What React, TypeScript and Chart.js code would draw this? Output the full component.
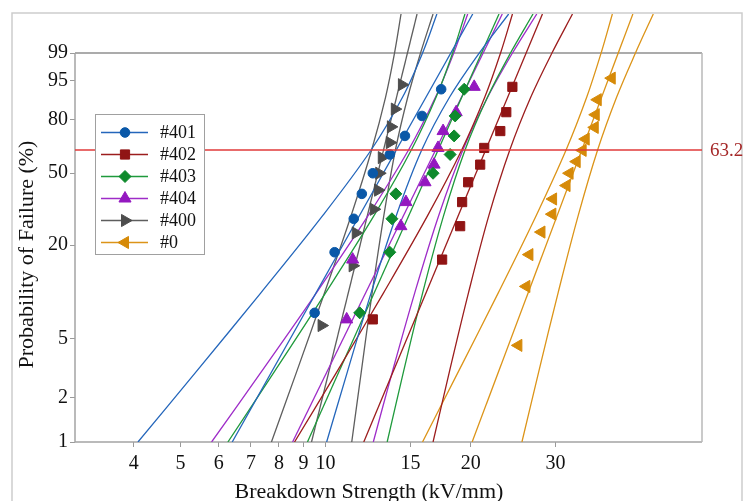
import React, { useEffect, useRef } from 'react';
import { Chart, registerables } from 'chart.js';

Chart.register(...registerables);

// ---------------- data ----------------
const X_TICKS = [4, 5, 6, 7, 8, 9, 10, 15, 20, 30];
const Y_TICKS = [1, 2, 5, 20, 50, 80, 95, 99];
const X_MIN = 3.02;
const X_MAX = 60.4;
const Y_MIN_PCT = 1;
const Y_MAX_PCT = 99.98;
const REF_PCT = 63.2;

// median ranks (probability of failure, %)
const RANK_9 = [7.4, 18.1, 28.7, 39.4, 50.0, 60.6, 71.3, 81.9, 92.6];
const RANK_10 = [6.7, 16.3, 26.0, 35.6, 45.2, 54.8, 64.4, 74.0, 83.7, 93.3];
const RANK_11 = [6.1, 14.9, 23.7, 32.5, 41.2, 50.0, 58.8, 67.5, 76.3, 85.1, 93.9];
const RANK_15 = [4.5, 11.0, 17.5, 24.0, 30.5, 37.0, 43.5, 50.0, 56.5, 63.0, 69.5, 76.0, 82.5, 89.0, 95.5];

// breakdown strength of the samples (kV/mm)
const KV_401 = [9.49, 10.44, 11.44, 11.89, 12.53, 13.59, 14.61, 15.85, 17.37];
const KV_402 = [12.53, 17.45, 19.02, 19.2, 19.76, 20.93, 21.34, 23.04, 23.71, 24.41];
const KV_403 = [11.77, 13.59, 13.73, 13.99, 16.71, 18.13, 18.48, 18.57, 19.39];
const KV_404 = [11.06, 11.38, 14.33, 14.68, 16.08, 16.79, 17.11, 17.53, 18.66, 20.34];
const KV_400 = [9.81, 11.38, 11.55, 12.59, 12.85, 12.92, 13.08, 13.59, 13.66, 13.92, 14.4];
const KV_0 = [25.12, 26.1, 26.48, 28.05, 29.55, 29.65, 31.62, 32.08, 33.19, 34.15, 34.65, 36.18, 36.35, 36.7, 39.24];

// fitted Weibull lines: strength at FIT_PCT
const FIT_PCT = [1, 99.98];
const FIT_401 = [6.4, 20.2];
const FIT_402 = [12.0, 28.18];
const FIT_403 = [9.17, 22.9];
const FIT_404 = [8.54, 23.26];
const FIT_400 = [9.35, 15.48];
const FIT_0 = [20.14, 43.41];

// confidence bounds: strength at BOUND_PCT
const BOUND_PCT = [1, 3, 10, 30, 63.2, 90, 99, 99.98];
const LO_401 = [4.08, 5.39, 7.34, 9.87, 12.43, 14.45, 15.89, 17.02];
const HI_401 = [10.05, 11.1, 12.43, 14.02, 15.83, 18.09, 20.84, 23.98];
const LO_402 = [8.62, 10.56, 13.19, 16.29, 19.16, 21.4, 23.07, 24.42];
const HI_402 = [16.71, 18.07, 19.79, 21.82, 24.11, 26.66, 29.49, 32.53];
const LO_403 = [6.27, 7.83, 10.0, 12.61, 15.06, 16.96, 18.35, 19.46];
const HI_403 = [13.42, 14.51, 15.9, 17.58, 19.47, 21.68, 24.19, 26.94];
const LO_404 = [5.8, 7.36, 9.57, 12.26, 14.86, 16.91, 18.45, 19.72];
const HI_404 = [12.56, 13.76, 15.31, 17.17, 19.27, 21.7, 24.42, 27.43];
const LO_400 = [7.72, 8.71, 9.95, 11.3, 12.46, 13.32, 13.9, 14.34];
const HI_400 = [11.33, 11.86, 12.49, 13.21, 13.96, 14.81, 15.74, 16.71];
const LO_0 = [15.89, 18.86, 22.82, 27.36, 31.55, 34.83, 37.3, 39.36];
const HI_0 = [25.55, 27.69, 30.37, 33.44, 36.68, 40.18, 43.95, 47.86];

const SERIES_NAMES = ['#401', '#402', '#403', '#404', '#400', '#0'];

// ---------------- styles ----------------
const FONT = '"Liberation Serif", "Times New Roman", serif';

type Series = {
  name: string; kv: number[]; pct: number[]; fit: number[]; lo: number[]; hi: number[];
  marker: string; line: string; style: string; rot: number; r: number;
};

const SERIES: Series[] = [
  { name: SERIES_NAMES[0], kv: KV_401, pct: RANK_9, fit: FIT_401, lo: LO_401, hi: HI_401, marker: '#0a58a8', line: '#2466bb', style: 'circle', rot: 0, r: 4.8 },
  { name: SERIES_NAMES[1], kv: KV_402, pct: RANK_10, fit: FIT_402, lo: LO_402, hi: HI_402, marker: '#901414', line: '#9c1d1d', style: 'rect', rot: 0, r: 6.5 },
  { name: SERIES_NAMES[2], kv: KV_403, pct: RANK_9, fit: FIT_403, lo: LO_403, hi: HI_403, marker: '#0e8a2c', line: '#1f9a3c', style: 'rectRot', rot: 0, r: 6 },
  { name: SERIES_NAMES[3], kv: KV_404, pct: RANK_10, fit: FIT_404, lo: LO_404, hi: HI_404, marker: '#9418c0', line: '#9e2cc8', style: 'triangle', rot: 0, r: 7 },
  { name: SERIES_NAMES[4], kv: KV_400, pct: RANK_11, fit: FIT_400, lo: LO_400, hi: HI_400, marker: '#4d4d4d', line: '#5e5e5e', style: 'triangle', rot: 90, r: 7 },
  { name: SERIES_NAMES[5], kv: KV_0, pct: RANK_15, fit: FIT_0, lo: LO_0, hi: HI_0, marker: '#d68a08', line: '#dc9418', style: 'triangle', rot: -90, r: 7 },
];

// Weibull probability transform
const wb = (p: number) => Math.log(-Math.log(1 - p / 100));

function drawMarker(ctx: CanvasRenderingContext2D, style: string, x: number, y: number, r: number, rot: number, color: string) {
  ctx.save();
  ctx.fillStyle = color;
  ctx.strokeStyle = color;
  ctx.lineWidth = 1;
  ctx.beginPath();
  if (style === 'circle') {
    ctx.arc(x, y, r, 0, Math.PI * 2);
  } else if (style === 'rect') {
    const s = r * Math.SQRT1_2;
    ctx.rect(x - s, y - s, 2 * s, 2 * s);
  } else if (style === 'rectRot') {
    ctx.moveTo(x - r, y);
    ctx.lineTo(x, y - r);
    ctx.lineTo(x + r, y);
    ctx.lineTo(x, y + r);
    ctx.closePath();
  } else {
    let a = (rot * Math.PI) / 180;
    ctx.moveTo(x + Math.sin(a) * r, y - Math.cos(a) * r);
    a += (2 * Math.PI) / 3;
    ctx.lineTo(x + Math.sin(a) * r, y - Math.cos(a) * r);
    a += (2 * Math.PI) / 3;
    ctx.lineTo(x + Math.sin(a) * r, y - Math.cos(a) * r);
    ctx.closePath();
  }
  ctx.fill();
  ctx.stroke();
  ctx.restore();
}

const framePlugin = {
  id: 'weibullFrame',
  beforeDatasetsDraw(chart: any) {
    const ctx: CanvasRenderingContext2D = chart.ctx;
    const { left, right, bottom } = chart.chartArea;
    const y99 = chart.scales.y.getPixelForValue(wb(99));
    ctx.save();
    // outer figure frame
    ctx.strokeStyle = '#cdcdcd';
    ctx.lineWidth = 1.5;
    ctx.beginPath();
    ctx.moveTo(12, 510);
    ctx.lineTo(12, 13);
    ctx.lineTo(742, 13);
    ctx.lineTo(742, 510);
    ctx.stroke();
    // plot frame
    ctx.lineWidth = 1.5;
    ctx.strokeStyle = '#8f8f8f';
    ctx.beginPath();
    ctx.moveTo(left, y99);
    ctx.lineTo(right, y99);
    ctx.stroke();
    ctx.strokeStyle = '#a4a4a4';
    ctx.beginPath();
    ctx.moveTo(left, y99);
    ctx.lineTo(left, bottom);
    ctx.lineTo(right, bottom);
    ctx.stroke();
    ctx.strokeStyle = '#b8b8b8';
    ctx.beginPath();
    ctx.moveTo(right, y99);
    ctx.lineTo(right, bottom);
    ctx.stroke();
    ctx.restore();
  },
  afterDatasetsDraw(chart: any) {
    const ctx: CanvasRenderingContext2D = chart.ctx;
    const { left, right } = chart.chartArea;
    const yr = chart.scales.y.getPixelForValue(wb(REF_PCT));
    ctx.save();
    ctx.strokeStyle = '#e03a3a';
    ctx.lineWidth = 1.5;
    ctx.beginPath();
    ctx.moveTo(left, yr);
    ctx.lineTo(right, yr);
    ctx.stroke();
    ctx.fillStyle = '#a52828';
    ctx.font = `19px ${FONT}`;
    ctx.textAlign = 'left';
    ctx.textBaseline = 'middle';
    ctx.fillText(String(REF_PCT), 710, yr + 1);
    ctx.restore();
  },
  afterDraw(chart: any) {
    const ctx: CanvasRenderingContext2D = chart.ctx;
    ctx.save();
    // legend
    const bx = 95, by = 114, bw = 109, bh = 140;
    ctx.fillStyle = '#ffffff';
    ctx.fillRect(bx, by, bw, bh);
    ctx.strokeStyle = '#a0a0a0';
    ctx.lineWidth = 1;
    ctx.strokeRect(bx + 0.5, by + 0.5, bw, bh);
    SERIES.forEach((s, i) => {
      const y = 132.5 + i * 22;
      ctx.strokeStyle = s.line;
      ctx.lineWidth = 1.5;
      ctx.beginPath();
      ctx.moveTo(101, y);
      ctx.lineTo(148, y);
      ctx.stroke();
      drawMarker(ctx, s.style, 125, y, s.r, s.rot, s.marker);
      ctx.fillStyle = '#111111';
      ctx.font = `18px ${FONT}`;
      ctx.textAlign = 'left';
      ctx.textBaseline = 'middle';
      ctx.fillText(s.name, 160, y + 1);
    });
    // axis titles
    ctx.fillStyle = '#111111';
    ctx.font = `22px ${FONT}`;
    ctx.textAlign = 'center';
    ctx.textBaseline = 'alphabetic';
    ctx.fillText('Breakdown Strength (kV/mm)', 369, 498);
    ctx.translate(27, 254.5);
    ctx.rotate(-Math.PI / 2);
    ctx.textBaseline = 'middle';
    ctx.fillText('Probability of Failure (%)', 0, 0);
    ctx.restore();
  },
};

export default function App() {
  const ref = useRef<HTMLCanvasElement | null>(null);

  useEffect(() => {
    if (!ref.current) return;
    const datasets: any[] = [];
    SERIES.forEach((s) => {
      datasets.push({
        label: s.name,
        data: s.kv.map((x, i) => ({ x, y: wb(s.pct[i]) })),
        showLine: false,
        pointStyle: s.style,
        pointRotation: s.rot,
        pointRadius: s.r,
        pointBackgroundColor: s.marker,
        pointBorderColor: s.marker,
        pointBorderWidth: 1,
        order: 0,
      });
      datasets.push({
        label: s.name + ' fit',
        data: FIT_PCT.map((p, i) => ({ x: s.fit[i], y: wb(p) })),
        showLine: true,
        pointRadius: 0,
        borderColor: s.line,
        borderWidth: 1.3,
        order: 1,
      });
      [s.lo, s.hi].forEach((b, k) => {
        datasets.push({
          label: s.name + (k ? ' upper' : ' lower'),
          data: BOUND_PCT.map((p, i) => ({ x: b[i], y: wb(p) })),
          showLine: true,
          pointRadius: 0,
          borderColor: s.line,
          borderWidth: 1.3,
          tension: 0.35,
          order: 1,
        });
      });
    });

    const chart = new Chart(ref.current, {
      type: 'scatter',
      data: { datasets },
      options: {
        animation: false,
        responsive: false,
        events: [],
        layout: { padding: { top: 11, right: 41, left: 0, bottom: 0 } },
        plugins: { legend: { display: false }, tooltip: { enabled: false } },
        scales: {
          x: {
            type: 'logarithmic',
            min: X_MIN,
            max: X_MAX,
            border: { display: false },
            grid: { drawOnChartArea: false, drawTicks: true, tickLength: 5, color: '#9a9a9a', lineWidth: 1 },
            ticks: {
              autoSkip: false,
              maxRotation: 0,
              padding: 5,
              color: '#111111',
              font: { family: FONT, size: 20 },
              callback: (_v: any, i: number) => String(X_TICKS[i]),
            },
            afterBuildTicks: (scale: any) => {
              scale.ticks = X_TICKS.map((v) => ({ value: v }));
            },
            afterFit: (scale: any) => {
              scale.height = 59;
            },
          },
          y: {
            type: 'linear',
            min: wb(Y_MIN_PCT),
            max: wb(Y_MAX_PCT),
            border: { display: false },
            grid: { drawOnChartArea: false, drawTicks: true, tickLength: 5, color: '#9a9a9a', lineWidth: 1 },
            ticks: {
              autoSkip: false,
              padding: 2,
              color: '#111111',
              font: { family: FONT, size: 20 },
              callback: (_v: any, i: number) => String(Y_TICKS[i]),
            },
            afterBuildTicks: (scale: any) => {
              scale.ticks = Y_TICKS.map((p) => ({ value: wb(p) }));
            },
            afterFit: (scale: any) => {
              scale.width = 75;
            },
          },
        },
      },
      plugins: [framePlugin],
    } as any);

    return () => chart.destroy();
  }, []);

  return (
    <div style={{ position: 'absolute', left: 0, top: 0, width: 743, height: 501, background: '#ffffff' }}>
      <canvas ref={ref} width={743} height={501} style={{ display: 'block' }} />
    </div>
  );
}
